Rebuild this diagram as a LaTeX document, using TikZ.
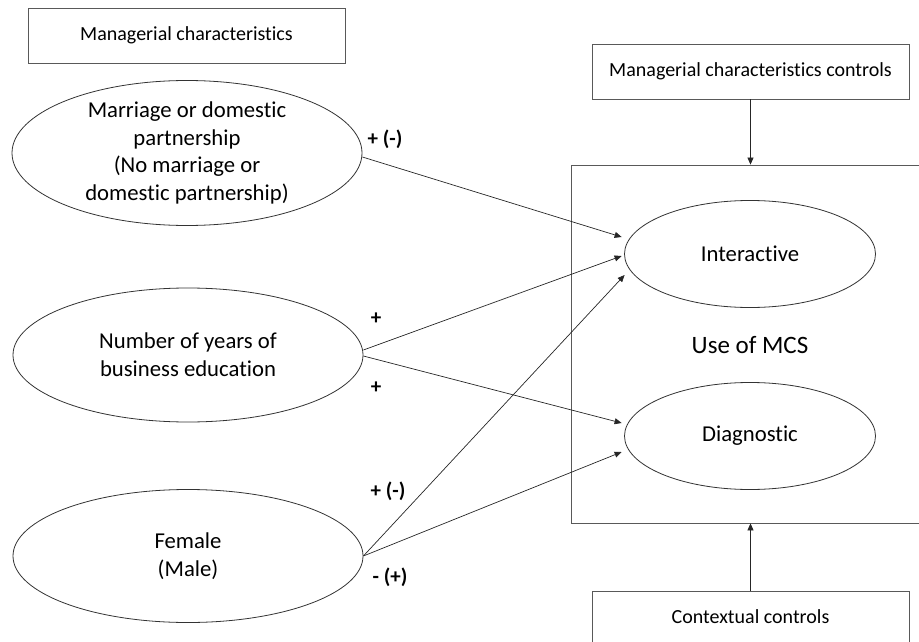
\documentclass[tikz,border=0pt]{standalone}
\usepackage{fontspec}
\setmainfont{Carlito}[Ligatures=NoCommon]
\usetikzlibrary{shapes.geometric,arrows.meta}
\tikzset{
  box/.style={draw=black!65, line width=0.8pt, rectangle, inner sep=0pt, align=center},
  oval/.style={draw=black!80, line width=0.8pt, ellipse, inner sep=0pt, align=center, font=\fontsize{22.7}{27.7}\selectfont},
  arr/.style={draw=black!85, line width=0.7pt, -{Triangle[length=7pt,width=6pt]}},
  sign/.style={font=\bfseries\fontsize{21}{24}\selectfont, inner sep=0pt}
}
\begin{document}
\begin{tikzpicture}[x=1pt,y=-1pt]
\useasboundingbox (0,0) rectangle (919,642);
\clip (0,0) rectangle (919,642);
% boxes
\node[box, minimum width=317pt, minimum height=55pt, font=\fontsize{20}{24}\selectfont] (mc) at (186.5,35.5) {Managerial characteristics};
\node[box, minimum width=317pt, minimum height=55pt, font=\fontsize{20}{24}\selectfont] (mcc) at (750.5,71.5) {Managerial characteristics controls};
\node[box, minimum width=317pt, minimum height=68pt] (ctx) at (750.5,625) {};
\node[font=\fontsize{20}{24}\selectfont, inner sep=0pt] (ctxt) at (750.5,617) {Contextual controls};
\node[box, minimum width=354pt, minimum height=358pt] (mcs) at (748,344) {};
\node[font=\fontsize{25}{30}\selectfont, inner sep=0pt] (use) at (750,345) {Use of MCS};
% ellipses
\node[oval, minimum width=350pt, minimum height=130pt] (mar) at (187,153) {Marriage or domestic\\partnership\\(No marriage or\\domestic partnership)};
\node[oval, minimum width=350pt, minimum height=134pt] (num) at (188,355) {Number of years of\\business education};
\node[oval, minimum width=350pt, minimum height=133pt] (fem) at (188,556) {Female\\(Male)};
\node[oval, minimum width=251pt, minimum height=107pt] (int) at (750,254) {Interactive};
\node[oval, minimum width=251pt, minimum height=107pt] (dia) at (750,436) {Diagnostic};
% connectors
\draw[arr] ([yshift=-4pt]mar.east) -- ([xshift=-2.5pt,yshift=17pt]int.west);
\draw[arr] ([yshift=5pt]num.east) -- ([xshift=-2.5pt,yshift=-2pt]int.west);
\draw[arr] (fem.east) -- ([xshift=0.5pt,yshift=-21pt]int.west);
\draw[arr] ([yshift=-1pt]num.east) -- ([xshift=-2.5pt,yshift=13pt]dia.west);
\draw[arr] (fem.east) -- ([xshift=-2.5pt,yshift=-16pt]dia.west);
\draw[arr] (mcc.south) -- (mcc.south |- mcs.north);
\draw[arr] (ctx.north) -- (ctx.north |- mcs.south);
% signs
\node[sign] (s1) at (385,139) {+ (-)};
\node[sign] (s2) at (376,318.5) {+};
\node[sign] (s3) at (376,387.5) {+};
\node[sign] (s4) at (388,491) {+ (-)};
\node[sign] (s5) at (390,577) {- (+)};
\end{tikzpicture}
\end{document}
